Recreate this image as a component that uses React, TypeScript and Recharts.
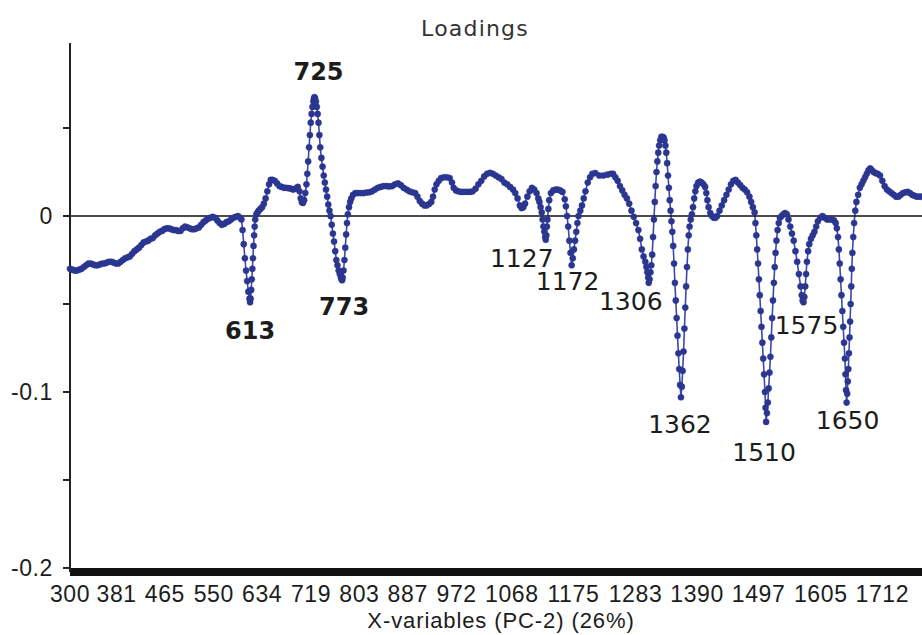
import { LineChart, Line, XAxis, YAxis, ReferenceLine, ReferenceDot } from "recharts";

type Pt = [number, number];

// PC-2 loadings, [wavenumber, loading], split by spectral region
const lowRange: Pt[] = [
  [300, -0.030], [304, -0.0305], [308, -0.031], [312, -0.031], [316, -0.0305], [320, -0.030],
  [324, -0.029], [328, -0.028], [332, -0.027], [336, -0.027], [340, -0.0275], [344, -0.028],
  [348, -0.028], [352, -0.0275], [356, -0.027], [360, -0.027], [364, -0.0265], [368, -0.026],
  [372, -0.026], [376, -0.0265], [380, -0.027], [384, -0.027], [388, -0.026], [392, -0.025],
  [396, -0.024], [400, -0.0235], [404, -0.023], [408, -0.0215], [412, -0.020], [416, -0.019],
  [420, -0.018], [424, -0.0165], [428, -0.015], [432, -0.0145], [436, -0.014], [440, -0.013],
  [444, -0.0125], [448, -0.011], [452, -0.010], [456, -0.009], [460, -0.0085], [464, -0.0075],
  [468, -0.007], [472, -0.007], [476, -0.0075], [480, -0.008], [484, -0.008], [488, -0.0085],
  [492, -0.0085], [496, -0.007], [500, -0.006], [504, -0.0065], [508, -0.007], [512, -0.0075],
  [516, -0.0075], [520, -0.007], [524, -0.0065], [528, -0.005], [532, -0.0035], [536, -0.0025],
  [540, -0.0015], [544, -0.001], [548, -0.0005], [552, -0.001], [556, -0.0025], [560, -0.004],
  [564, -0.005], [568, -0.0045], [572, -0.0035], [576, -0.003], [580, -0.002], [584, -0.001],
  [588, -0.0005], [592, 0.0], [596, -0.001],
];

const band613: Pt[] = [
  [598, -0.002], [600, -0.008], [602, -0.016], [604, -0.024], [606, -0.031], [608, -0.037],
  [610, -0.043], [612, -0.047], [613, -0.049], [614, -0.047], [615, -0.042], [616, -0.036],
  [617, -0.030], [618, -0.024], [619, -0.017], [620, -0.011], [621, -0.006], [622, -0.002],
  [624, 0.001], [626, 0.002], [628, 0.003],
];

const band725: Pt[] = [
  [631, 0.004], [634, 0.005], [637, 0.007], [640, 0.010], [643, 0.014], [646, 0.018],
  [649, 0.0205], [652, 0.0205], [656, 0.020], [660, 0.0185], [664, 0.017], [668, 0.0165],
  [672, 0.016], [676, 0.016], [680, 0.0158], [684, 0.0155], [688, 0.015], [692, 0.0155],
  [696, 0.0165], [699, 0.014], [701, 0.010], [703, 0.0078], [705, 0.0074], [707, 0.009],
  [709, 0.013], [711, 0.018], [712.5, 0.024], [714, 0.031], [715.5, 0.039], [717, 0.046],
  [718.5, 0.053], [720, 0.058], [721.5, 0.062], [723, 0.065], [724, 0.0668], [725, 0.0675],
  [726, 0.0668], [727.5, 0.065], [729, 0.062], [730.5, 0.058], [732, 0.053], [733.5, 0.046],
  [735, 0.039], [737, 0.033], [739, 0.028], [741, 0.023], [743, 0.019], [745, 0.015],
  [747, 0.011], [749, 0.0065], [751, 0.003], [753, 0.0], [755, -0.005], [757, -0.010],
  [759, -0.0145], [761, -0.020], [763, -0.025], [765, -0.028], [767, -0.031], [769, -0.033],
  [771, -0.035], [772, -0.036], [773, -0.0365], [774, -0.035], [775.5, -0.031], [777, -0.025],
  [778.5, -0.018], [780, -0.0105], [781.5, -0.004], [783, 0.001], [785, 0.005], [787, 0.008],
  [789, 0.010], [792, 0.012],
];

const midRange: Pt[] = [
  [796, 0.013], [800, 0.013], [805, 0.013], [810, 0.013], [815, 0.0133], [820, 0.0135],
  [825, 0.014], [830, 0.015], [835, 0.016], [840, 0.0165], [845, 0.017], [850, 0.017],
  [855, 0.0168], [860, 0.017], [865, 0.018], [870, 0.0185], [875, 0.0175], [880, 0.016],
  [885, 0.015], [890, 0.014], [895, 0.0135], [900, 0.013], [904, 0.011], [908, 0.0085],
  [912, 0.007], [916, 0.006], [920, 0.006], [924, 0.0068], [928, 0.008], [931, 0.011],
  [934, 0.015], [937, 0.018], [941, 0.020], [945, 0.0215], [950, 0.022], [955, 0.022],
  [960, 0.0216], [964, 0.019], [967, 0.016], [971, 0.0145], [975, 0.014], [980, 0.0137],
  [985, 0.0137], [990, 0.0137], [995, 0.0137], [1000, 0.014], [1005, 0.0155], [1010, 0.018],
  [1015, 0.020], [1020, 0.0225], [1025, 0.024], [1030, 0.0245], [1035, 0.024], [1040, 0.023],
  [1045, 0.022], [1050, 0.021], [1055, 0.019], [1060, 0.018], [1065, 0.0165], [1070, 0.015],
  [1074, 0.013], [1078, 0.010], [1082, 0.006], [1085, 0.0045], [1088, 0.005], [1091, 0.007],
  [1095, 0.011], [1099, 0.014], [1103, 0.016], [1107, 0.015], [1111, 0.013], [1114, 0.010],
];

const band1127: Pt[] = [
  [1116, 0.008], [1118, 0.005], [1120, 0.002], [1121.5, -0.002], [1123, -0.006], [1124.5, -0.009],
  [1126, -0.012], [1127, -0.0135], [1128, -0.011], [1129, -0.006], [1130, -0.002], [1131.5, 0.004],
  [1133, 0.009], [1136, 0.013], [1140, 0.0145], [1144, 0.015], [1148, 0.015], [1152, 0.0145],
  [1156, 0.0137], [1160, 0.0095], [1162, 0.0055], [1164, 0.0], [1166, -0.006], [1168, -0.014],
  [1170, -0.021], [1172, -0.028], [1174, -0.024], [1176, -0.019], [1178, -0.014], [1180, -0.009],
  [1182, -0.004], [1184, 0.0], [1187, 0.003], [1190, 0.006], [1193, 0.010], [1196, 0.014],
  [1200, 0.019], [1204, 0.022], [1208, 0.024],
];

const band1306: Pt[] = [
  [1213, 0.0244], [1220, 0.023], [1227, 0.023], [1234, 0.0235], [1240, 0.024], [1244, 0.024],
  [1248, 0.022], [1252, 0.020], [1256, 0.017], [1260, 0.0145], [1264, 0.012], [1268, 0.010],
  [1272, 0.007], [1276, 0.003], [1280, -0.0005], [1284, -0.004], [1288, -0.008], [1291, -0.013],
  [1294, -0.019], [1297, -0.023], [1300, -0.026], [1302, -0.029], [1303.5, -0.032], [1305, -0.035],
  [1306, -0.038], [1307.5, -0.036], [1309, -0.032], [1310.5, -0.028], [1312, -0.022], [1313.5, -0.012],
  [1315, -0.002], [1316.5, 0.008], [1318, 0.017], [1319.5, 0.025], [1321, 0.031], [1322.5, 0.036],
  [1324, 0.040], [1326, 0.043], [1328, 0.045], [1330, 0.045], [1332, 0.0445], [1333.5, 0.043],
  [1335, 0.040], [1336.5, 0.036], [1338, 0.030], [1339.5, 0.023], [1341, 0.016], [1342.5, 0.009],
  [1344, 0.003], [1345.5, -0.003], [1347, -0.009], [1348.5, -0.017], [1350, -0.027], [1351.5, -0.038],
  [1353, -0.048], [1354.5, -0.058], [1356, -0.068], [1357.5, -0.078], [1359, -0.087], [1360.5, -0.096],
  [1362, -0.103],
];

const band1510: Pt[] = [
  [1363.5, -0.097], [1365, -0.088], [1366.5, -0.077], [1368, -0.064], [1369.5, -0.052], [1371, -0.040],
  [1372.5, -0.029], [1374, -0.019], [1375.5, -0.011], [1377, -0.006], [1379, -0.002], [1381, 0.001],
  [1383, 0.005], [1385, 0.010], [1387, 0.014], [1389, 0.017], [1392, 0.019], [1395, 0.0195],
  [1398, 0.019], [1401, 0.018], [1404, 0.0165], [1406, 0.013], [1408, 0.009], [1410, 0.005],
  [1413, 0.0017], [1416, 0.0], [1419, -0.001], [1422, -0.001], [1425, 0.0], [1429, 0.003],
  [1433, 0.006], [1437, 0.009], [1441, 0.012], [1445, 0.015], [1449, 0.018], [1453, 0.020],
  [1457, 0.0205], [1461, 0.019], [1465, 0.0176], [1469, 0.016], [1473, 0.015], [1477, 0.0135],
  [1481, 0.011], [1484, 0.008], [1487, 0.005], [1490, 0.002], [1491.5, -0.004], [1493, -0.011],
  [1494.5, -0.019], [1496, -0.027], [1497.5, -0.036], [1499, -0.045], [1500.5, -0.054], [1502, -0.063],
  [1503.5, -0.072], [1505, -0.081], [1506.5, -0.090], [1508, -0.100], [1509, -0.109], [1510, -0.117],
];

const band1650: Pt[] = [
  [1511.5, -0.112], [1513, -0.106], [1514.5, -0.098], [1516, -0.089], [1517.5, -0.080], [1519, -0.069],
  [1520.5, -0.058], [1522, -0.048], [1523.5, -0.038], [1525, -0.029], [1526.5, -0.021], [1528, -0.014],
  [1530, -0.008], [1532, -0.004], [1534, -0.001], [1537, 0.0], [1540, 0.001], [1543, 0.0017],
  [1546, 0.001], [1549, -0.002], [1552, -0.006], [1555, -0.010], [1558, -0.014], [1561, -0.020],
  [1564, -0.026], [1567, -0.033], [1570, -0.040], [1572, -0.045], [1573.5, -0.048], [1575, -0.049],
  [1576.5, -0.046], [1578, -0.040], [1579.5, -0.033], [1581, -0.026], [1583, -0.020], [1585, -0.016],
  [1588, -0.013], [1591, -0.011], [1594, -0.009], [1597, -0.006], [1600, -0.003], [1604, -0.001],
  [1608, 0.0], [1612, -0.001], [1616, -0.002], [1620, -0.002], [1624, -0.002], [1628, -0.0025],
  [1631, -0.004], [1633, -0.007], [1635, -0.012], [1636.5, -0.019], [1638, -0.027], [1639.5, -0.036],
  [1641, -0.045], [1642.5, -0.054], [1644, -0.063], [1645.5, -0.072], [1647, -0.081], [1648, -0.090],
  [1649, -0.099], [1650, -0.106],
];

const tail: Pt[] = [
  [1651, -0.101], [1652, -0.094], [1653, -0.087], [1654, -0.078], [1655, -0.069], [1656, -0.060],
  [1657, -0.050], [1658, -0.040], [1659, -0.030], [1660, -0.021], [1661.5, -0.012], [1663, -0.004],
  [1665, 0.003], [1667, 0.008], [1670, 0.012], [1673, 0.016], [1676, 0.018], [1679, 0.020],
  [1682, 0.022], [1685, 0.024], [1688, 0.026], [1691, 0.027], [1694, 0.026], [1697, 0.025],
  [1700, 0.0244], [1704, 0.024], [1708, 0.023], [1712, 0.020], [1716, 0.017], [1720, 0.015],
  [1724, 0.014], [1728, 0.013], [1732, 0.012], [1736, 0.011], [1740, 0.011], [1744, 0.012],
  [1748, 0.013], [1752, 0.0135], [1756, 0.0137], [1760, 0.013], [1764, 0.012], [1768, 0.0115],
  [1772, 0.011], [1776, 0.011], [1780, 0.011],
];

const xTicks = [300, 381, 465, 550, 634, 719, 803, 887, 972, 1068, 1175, 1283, 1390, 1497, 1605, 1712];
const yTicks = [-0.2, -0.15, -0.1, -0.05, 0, 0.05];
const yLabelled = [-0.2, -0.1, 0];
const peakLabels = [613, 725, 773, 1127, 1172, 1306, 1362, 1510, 1575, 1650];

const spectrum = [
  ...lowRange, ...band613, ...band725, ...midRange, ...band1127,
  ...band1306, ...band1510, ...band1650, ...tail,
].map(([x, y]) => ({ x, y }));

// where each peak label sits relative to its point: [dx, baseline dy]
const labelOffset: Record<number, [number, number]> = {
  613: [0, 37], 725: [4, -17], 773: [2, 35], 1127: [-24, 27], 1172: [-4, 25],
  1306: [-18, 27], 1362: [-1, 36], 1510: [-2, 39], 1575: [3, 32], 1650: [1, 26],
};
const boldLabels = [613, 725, 773];

const DOT = "#2a3690";
const LINE = "#3a4aaa";
const INK = "#1c1c1c";
const AXIS_FONT = "Liberation Sans, Arial, sans-serif";
const LABEL_FONT = "DejaVu Sans, sans-serif";

export default function App() {
  const peaks = peakLabels.map((w) => {
    const p = spectrum.find((d) => d.x === w);
    return { x: w, y: p ? p.y : 0 };
  });

  return (
    <div style={{ position: "fixed", left: 0, top: 0, width: 922, height: 635, overflow: "hidden", background: "#fff" }}>
      <LineChart width={922} height={635} data={spectrum} margin={{ top: 43, right: 0, bottom: 0, left: 0 }}>
        <XAxis
          type="number"
          dataKey="x"
          domain={[300, 1781]}
          ticks={xTicks}
          interval={0}
          height={63}
          tickLine={false}
          tickSize={0}
          tickMargin={14}
          axisLine={{ stroke: "#111", strokeWidth: 8 }}
          tick={{ fontSize: 23, fill: INK, fontFamily: AXIS_FONT, letterSpacing: 0.6 }}
        />
        <YAxis
          type="number"
          domain={[-0.2023, 0.0983]}
          ticks={yTicks}
          interval={0}
          width={70}
          tickSize={7}
          tickMargin={10}
          tickLine={{ stroke: "#222", strokeWidth: 2 }}
          axisLine={{ stroke: "#222", strokeWidth: 2 }}
          tickFormatter={(v: number) => (yLabelled.some((l) => Math.abs(l - v) < 1e-9) ? String(v) : "")}
          tick={{ fontSize: 23, fill: INK, fontFamily: AXIS_FONT, letterSpacing: 0.6 }}
        />
        <Line
          type="linear"
          dataKey="y"
          stroke={LINE}
          strokeWidth={1.6}
          dot={{ r: 3.1, fill: DOT, stroke: DOT, strokeWidth: 0.4 }}
          activeDot={false}
          isAnimationActive={false}
        />
        <ReferenceLine y={0} stroke="#111" strokeWidth={1.6} />
        {peaks.map((p) => {
          const [dx, dy] = labelOffset[p.x];
          return (
            <ReferenceDot
              key={p.x}
              x={p.x}
              y={p.y}
              r={0}
              shape={(props: any) => (
                <text
                  x={props.cx + dx}
                  y={props.cy + dy}
                  textAnchor="middle"
                  fontSize={boldLabels.includes(p.x) ? 24 : 25}
                  fontWeight={boldLabels.includes(p.x) ? "bold" : "normal"}
                  fontFamily={LABEL_FONT}
                  fill={INK}
                >
                  {String(p.x)}
                </text>
              )}
            />
          );
        })}
      </LineChart>
      <svg width={922} height={635} style={{ position: "absolute", left: 0, top: 0, pointerEvents: "none" }}>
        <text x={475} y={36} textAnchor="middle" fontSize={22} fontFamily={LABEL_FONT} letterSpacing={1.2} fill="#333">
          Loadings
        </text>
        <text x={501} y={628} textAnchor="middle" fontSize={22} fontFamily={AXIS_FONT} letterSpacing={0.9} fill={INK}>
          X-variables (PC-2) (26%)
        </text>
      </svg>
    </div>
  );
}
